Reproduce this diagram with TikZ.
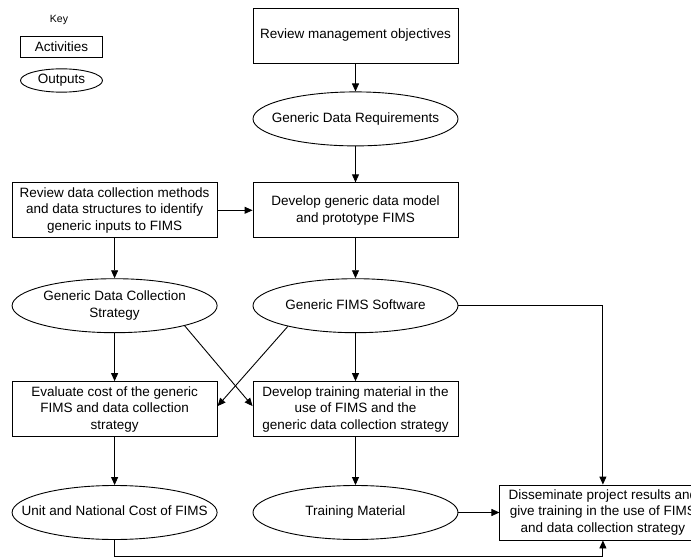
\documentclass[tikz,border=0pt]{standalone}
\usepackage{fontspec}
\setmainfont{Liberation Sans}
\usetikzlibrary{shapes.geometric, arrows.meta, positioning}

% text of an output, kept out of the ellipse size
\newcommand{\outtext}[1]{\makebox[0pt]{\begin{tabular}{@{}c@{}}#1\end{tabular}}}

\begin{document}
\begin{tikzpicture}[
    x=1pt, y=-1pt,
    font=\fontsize{13.5}{16.5}\selectfont,
    activity/.style={rectangle, draw=black, line width=0.9pt, minimum width=205pt, minimum height=55pt, inner sep=0pt, align=center},
    output/.style={ellipse, draw=black, line width=0.9pt, minimum width=205pt, minimum height=54pt, inner sep=0pt},
    arrow/.style={-{Triangle[length=8pt, width=7pt]}, line width=0.9pt, draw=black}
]
\useasboundingbox (0,0) rectangle (691,559);
\clip (0,0) rectangle (691,559);

% key
\node[font=\fontsize{10.5}{12}\selectfont] (key) at (59,20) {Key};
\node[activity, minimum width=82pt, minimum height=21pt] (keyact) at (61.5,46.5) {Activities};
\node[output, minimum width=82pt, minimum height=21pt] (keyout) at (61.5,80.5) {\outtext{Outputs}};

% right column
\node[activity] (objectives) at (355.5,35.5) {Review management objectives};
\node[output, below=28pt of objectives] (datareq) {\outtext{Generic Data Requirements}};
\node[activity, below=36pt of datareq] (model) {Develop generic data model\\and prototype FIMS};
\node[output, below=40pt of model] (fims) {\outtext{Generic FIMS Software}};
\node[activity, below=48pt of fims] (training) {Develop training material in the\\use of FIMS and the\\generic data collection strategy};
\node[output, below=48pt of training] (material) {\outtext{Training Material}};

% left column
\node[activity, left=35pt of model] (review) {Review data collection methods\\and data structures to identify\\generic inputs to FIMS};
\node[output, below=40pt of review] (strategy) {\outtext{Generic Data Collection\\Strategy}};
\node[activity, below=48pt of strategy] (evaluate) {Evaluate cost of the generic\\FIMS and data collection\\strategy};
\node[output, below=48pt of evaluate] (cost) {\outtext{Unit and National Cost of FIMS}};

\node[activity, minimum width=206pt, right=41pt of material] (disseminate) {Disseminate project results and\\give training in the use of FIMS\\and data collection strategy};

\coordinate (bottomline) at (0,556);

\draw[arrow] (objectives.south) -- (datareq.north);
\draw[arrow] (datareq.south) -- (model.north);
\draw[arrow] (review.east) -- (model.west);
\draw[arrow] (review.south) -- (strategy.north);
\draw[arrow] (model.south) -- (fims.north);
\draw[arrow] (strategy.south) -- (evaluate.north);
\draw[arrow] (fims.south) -- (training.north);
\draw[arrow] (strategy.-16) -- ([yshift=3pt]training.west);
\draw[arrow] (fims.197) -- ([yshift=3pt]evaluate.east);
\draw[arrow] (evaluate.south) -- (cost.north);
\draw[arrow] (training.south) -- (material.north);
\draw[arrow] (material.east) -- (disseminate.west);
\draw[arrow] (fims.east) -| (disseminate.north);
\draw[arrow] (cost.south) -- (cost.south |- bottomline) -| (disseminate.south);

\end{tikzpicture}
\end{document}
